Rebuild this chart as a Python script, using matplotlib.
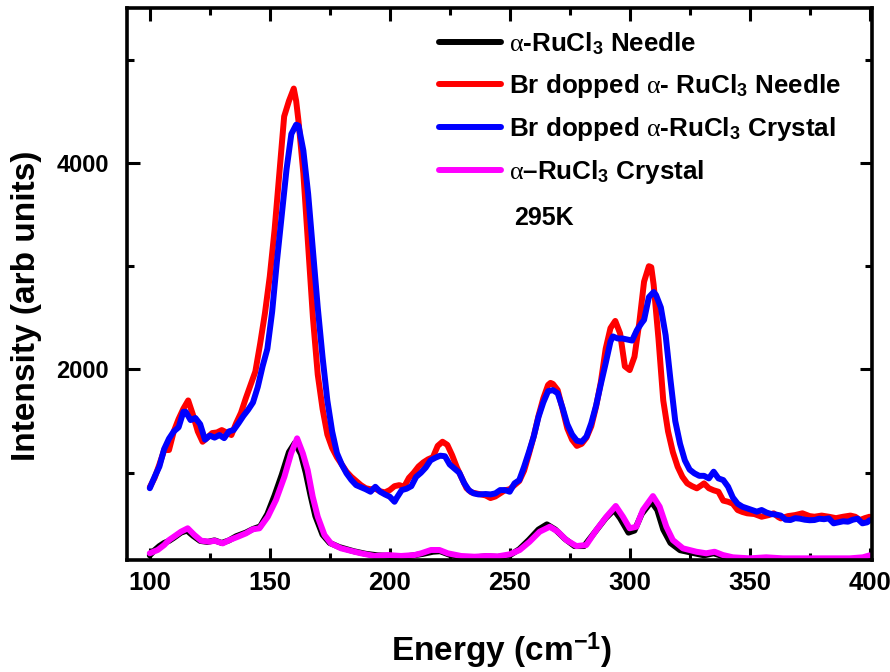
import matplotlib
matplotlib.use("Agg")
import matplotlib.pyplot as plt
from matplotlib.ticker import MultipleLocator

plt.rcParams['mathtext.fontset'] = 'custom'
plt.rcParams['mathtext.rm'] = 'Liberation Sans:bold'
plt.rcParams['mathtext.it'] = 'Liberation Serif'
plt.rcParams['mathtext.bf'] = 'Liberation Sans:bold'
plt.rcParams['font.family'] = ['Liberation Sans', 'DejaVu Sans']

# ---------------- data ----------------
blue_E = [100, 102, 104, 106, 108, 110, 112, 114, 115, 117, 119, 121, 123, 125, 127, 129, 131, 133, 135, 137,
          139, 141, 143, 145, 147, 149, 151, 153, 155, 157, 159, 161, 162, 164, 166, 168, 170, 172, 174, 176,
          178, 180, 182, 184, 186, 188, 190, 192, 194, 196, 198, 200, 202, 203, 205, 207, 209, 211, 213, 215,
          217, 219, 221, 223, 225, 227, 229, 231, 233, 235, 237, 240, 242, 244, 246, 248, 250, 252, 254, 256,
          258, 260, 262, 264, 266, 268, 270, 272, 274, 276, 278, 280, 282, 284, 286, 288, 290, 292, 293, 295,
          297, 299, 301, 303, 305, 306, 308, 310, 311, 313, 315, 317, 319, 321, 323, 325, 327, 329, 331, 333,
          335, 337, 339, 341, 343, 345, 347, 349, 351, 353, 355, 357, 359, 361, 363, 365, 367, 369, 371, 373,
          375, 377, 379, 381, 383, 385, 387, 389, 391, 393, 395, 397, 399, 400]
blue_I = [850, 960, 1060, 1230, 1330, 1400, 1440, 1590, 1590, 1510, 1530, 1470, 1320, 1360, 1340, 1365, 1335, 1400, 1415, 1480,
          1550, 1610, 1680, 1830, 2030, 2200, 2560, 3050, 3500, 3940, 4280, 4370, 4360, 4120, 3700, 3150, 2600, 2120, 1700, 1400,
          1190, 1080, 994, 930, 880, 860, 840, 816, 864, 816, 790, 768, 719, 760, 832, 845, 870, 960, 1000, 1050,
          1120, 1145, 1165, 1160, 1080, 1040, 1000, 900, 830, 800, 790, 794, 790, 800, 832, 832, 816, 897, 929, 1058,
          1200, 1350, 1540, 1680, 1790, 1800, 1770, 1630, 1470, 1370, 1310, 1300, 1350, 1480, 1650, 1860, 2060, 2270, 2320, 2300,
          2300, 2290, 2280, 2380, 2450, 2480, 2700, 2750, 2720, 2600, 2330, 1900, 1500, 1280, 1120, 1030, 994, 970, 970, 945,
          1010, 945, 929, 865, 760, 700, 671, 655, 640, 623, 639, 615, 600, 595, 585, 545, 542, 560, 555, 545,
          540, 542, 555, 550, 558, 510, 520, 530, 526, 545, 555, 510, 520, 540]

red_E = [100, 102, 104, 106, 108, 110, 112, 114, 116, 118, 120, 122, 124, 126, 128, 130, 132, 134, 136, 138,
         140, 142, 144, 146, 148, 150, 152, 154, 156, 158, 160, 161, 162, 164, 166, 168, 170, 172, 174, 176,
         178, 180, 182, 184, 186, 188, 190, 192, 194, 196, 198, 200, 202, 204, 206, 208, 210, 212, 214, 216,
         218, 220, 222, 224, 226, 228, 230, 232, 234, 236, 238, 240, 242, 244, 246, 248, 250, 252, 254, 256,
         258, 260, 262, 264, 266, 267, 268, 270, 272, 274, 276, 278, 280, 282, 284, 286, 288, 290, 292, 294,
         296, 298, 300, 302, 304, 306, 308, 309, 310, 312, 314, 316, 318, 320, 322, 324, 326, 328, 330, 331,
         333, 335, 337, 339, 341, 343, 345, 347, 349, 352, 355, 358, 360, 362, 363, 366, 369, 372, 375, 377,
         380, 383, 386, 389, 392, 394, 396, 398, 400]
red_I = [860, 950, 1080, 1220, 1220, 1400, 1520, 1620, 1700, 1560, 1400, 1300, 1340, 1384, 1390, 1413, 1390, 1365, 1480, 1580,
         1720, 1850, 1980, 2250, 2546, 2900, 3349, 3900, 4450, 4600, 4720, 4600, 4400, 3900, 3200, 2500, 1950, 1620, 1370, 1240,
         1150, 1080, 1010, 960, 920, 880, 850, 840, 845, 820, 810, 832, 870, 880, 864, 950, 1000, 1060, 1100, 1130,
         1150, 1260, 1300, 1270, 1170, 1050, 950, 850, 810, 800, 790, 780, 755, 770, 800, 830, 840, 880, 920, 1020,
         1180, 1350, 1550, 1720, 1850, 1870, 1860, 1800, 1620, 1430, 1320, 1260, 1280, 1340, 1450, 1640, 1880, 2200, 2400, 2470,
         2350, 2030, 1994, 2123, 2450, 2850, 3000, 2990, 2820, 2300, 1700, 1400, 1200, 1058, 960, 897, 870, 849, 880, 897,
         850, 830, 816, 730, 719, 700, 639, 620, 607, 600, 574, 590, 607, 570, 558, 580, 590, 607, 580, 574,
         585, 574, 560, 574, 585, 574, 542, 560, 574]

mag_E = [100, 102, 103.3, 106, 108, 110, 113, 115.8, 118.6, 121.4, 124.9, 127, 130.4, 133.2, 136.7, 140.1, 142.9, 145.7, 149.2, 152.6,
         156.1, 158.9, 161.4, 163.8, 165.8, 167.9, 170, 172.8, 175.5, 179.7, 185.3, 188, 193.6, 199.2, 204.7, 210.3, 213.1, 217.2, 220.7, 224.2,
         229.7, 235.3, 240.8, 245, 250, 254.2, 258.3, 262.5, 266.7, 270.1, 273.6, 277.8, 281.9, 286.1, 290.3, 294.2, 297.2, 300, 302.8, 305.5,
         309.7, 312.5, 315.3, 318, 322.2, 327.8, 331.9, 335.4, 338.9, 343, 350, 356.9, 363.9, 370.8, 377.8, 384.7, 391.7, 397.2, 400]
mag_I = [220, 240, 252, 300, 348, 380, 429, 462, 397, 342, 332, 342, 316, 348, 380, 413, 452, 462, 574, 736,
         961, 1187, 1333, 1187, 1026, 768, 574, 397, 316, 268, 235, 220, 194, 203, 194, 203, 220, 252, 252, 220,
         194, 187, 194, 190, 210, 252, 332, 429, 477, 429, 348, 290, 300, 445, 574, 678, 574, 462, 477, 639,
         774, 671, 477, 348, 268, 235, 220, 235, 203, 181, 171, 181, 171, 171, 171, 171, 171, 181, 200]

blk_E = [100, 102, 104, 106, 108, 110, 113, 115.5, 118, 121, 124, 127, 130, 133, 136, 140, 143, 146, 149, 152,
         155, 158, 160.5, 163, 165, 167, 169, 172, 175, 179, 185, 190, 195, 200, 205, 210, 214, 218, 221, 225,
         230, 235, 240, 245, 250, 254, 258, 262, 265.5, 269, 273, 277, 281, 286, 290, 293.5, 296, 299.5, 302, 305,
         309, 311.5, 314, 317, 321, 327, 331, 335, 339, 343, 350, 357, 364, 371, 378, 385, 392, 400]
blk_I = [200, 250, 290, 320, 340, 370, 420, 440, 390, 340, 330, 345, 320, 345, 385, 420, 455, 480, 600, 780,
         980, 1200, 1290, 1180, 1000, 780, 580, 400, 320, 280, 240, 215, 200, 195, 185, 200, 215, 235, 240, 205,
         180, 180, 190, 185, 200, 260, 350, 450, 500, 450, 360, 290, 290, 440, 560, 640, 560, 420, 440, 600,
         720, 640, 450, 320, 250, 220, 200, 220, 190, 170, 160, 165, 160, 155, 160, 158, 160, 165]

labels = [r'$\alpha$-RuCl$_3$ Needle',
          r'Br dopped $\alpha$- RuCl$_3$ Needle',
          r'Br dopped $\alpha$-RuCl$_3$ Crystal',
          r'$\alpha$–RuCl$_3$ Crystal']
colors = ['#000000', '#ff0000', '#0000ff', '#ff00ff']
temp_label = '295K'
x_label = r'Energy (cm$^{-1}$)'
y_label = 'Intensity (arb units)'

# ---------------- figure ----------------
W, H = 890, 672
fig = plt.figure(figsize=(W / 100, H / 100), dpi=100)
ax = fig.add_axes([127 / W, 1 - 560 / H, (872 - 127) / W, (560 - 8) / H])

lw = 4.3
series = [(blk_E, blk_I), (red_E, red_I), (blue_E, blue_I), (mag_E, mag_I)]
handles = []
for (e, i), c, lab in zip(series, colors, labels):
    h, = ax.plot(e, i, color=c, lw=lw, label=lab, solid_joinstyle='round', solid_capstyle='round')
    handles.append(h)

ax.set_xlim(90.5, 401)
ax.set_ylim(155, 5500)
ax.xaxis.set_major_locator(MultipleLocator(50))
ax.xaxis.set_minor_locator(MultipleLocator(25))
ax.yaxis.set_major_locator(MultipleLocator(2000))
ax.yaxis.set_minor_locator(MultipleLocator(1000))
ax.tick_params(which='both', direction='in', top=True, right=True, width=2.2)
ax.tick_params(which='major', length=9)
ax.tick_params(which='minor', length=5)
ax.tick_params(axis='y', which='major', pad=13)
ax.tick_params(axis='x', which='major', pad=8)
for sp in ax.spines.values():
    sp.set_linewidth(2.6)

for t in ax.get_yticklabels():
    t.set_fontsize(17)
    t.set_fontweight('bold')
for t in ax.get_xticklabels():
    t.set_fontsize(18.5)
    t.set_fontweight('bold')

fig.text(501 / W, 1 - 661 / H, x_label, fontsize=24, fontweight='bold',
         ha='center', va='baseline')
fig.text(27 / W, 1 - 306 / H, y_label, fontsize=24, fontweight='bold',
         ha='center', va='center', rotation=90)

leg = ax.legend(handles=handles, loc='upper left', bbox_to_anchor=(439 / W, 1 - 30 / H),
                bbox_transform=fig.transFigure, frameon=False, borderpad=0, borderaxespad=0,
                handlelength=2.4, handletextpad=0.3, labelspacing=0.58,
                prop={'weight': 'bold', 'size': 18.7})
for line in leg.get_lines():
    line.set_linewidth(4.3)

fig.text(514 / W, 1 - 218 / H, temp_label, fontsize=18, fontweight='bold', ha='left', va='center')

fig.savefig('out.png', dpi=100)
